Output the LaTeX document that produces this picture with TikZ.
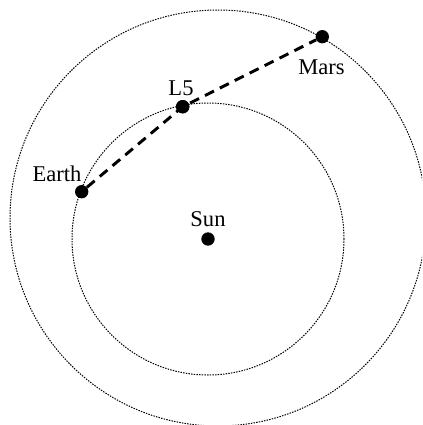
\documentclass[tikz,border=0pt]{standalone}
\usepackage{fontspec}
\setmainfont{Liberation Serif}
\begin{document}
\begin{tikzpicture}[x=0.75pt,y=-0.75pt,
  orbit/.style={line width=0.75pt, dash pattern=on 1.1pt off 0.9pt},
  body/.style={circle, fill=black, inner sep=0pt, minimum size=10pt},
  lbl/.style={inner sep=0pt, anchor=base, font=\fontsize{16.9}{18}\selectfont},
  route/.style={line width=2.2pt, dash pattern=on 7.5pt off 5pt}]
\useasboundingbox (0,0) rectangle (422,425);
\begin{scope}
\clip (0,0) rectangle (422,425);
\draw[orbit] (218,218) circle [radius=156pt];
\draw[orbit] (208,239) circle [radius=102pt];
\end{scope}
\node[body] (sun) at (208,239) {};
\node[body] (earth) at (81.7,191.7) {};
\node[body] (l5) at (182.7,106.7) {};
\node[body] (mars) at (322.3,36.7) {};
\draw[route] (earth) -- (l5.center) -- (mars);
\node[body] at (l5) {};
\node[lbl] (tsun) at (208,226.7) {Sun};
\node[lbl] (tearth) at (57,181.7) {Earth};
\node[lbl] (tl5) at (181,95) {L5};
\node[lbl] (tmars) at (321.5,74.3) {Mars};
\end{tikzpicture}
\end{document}
